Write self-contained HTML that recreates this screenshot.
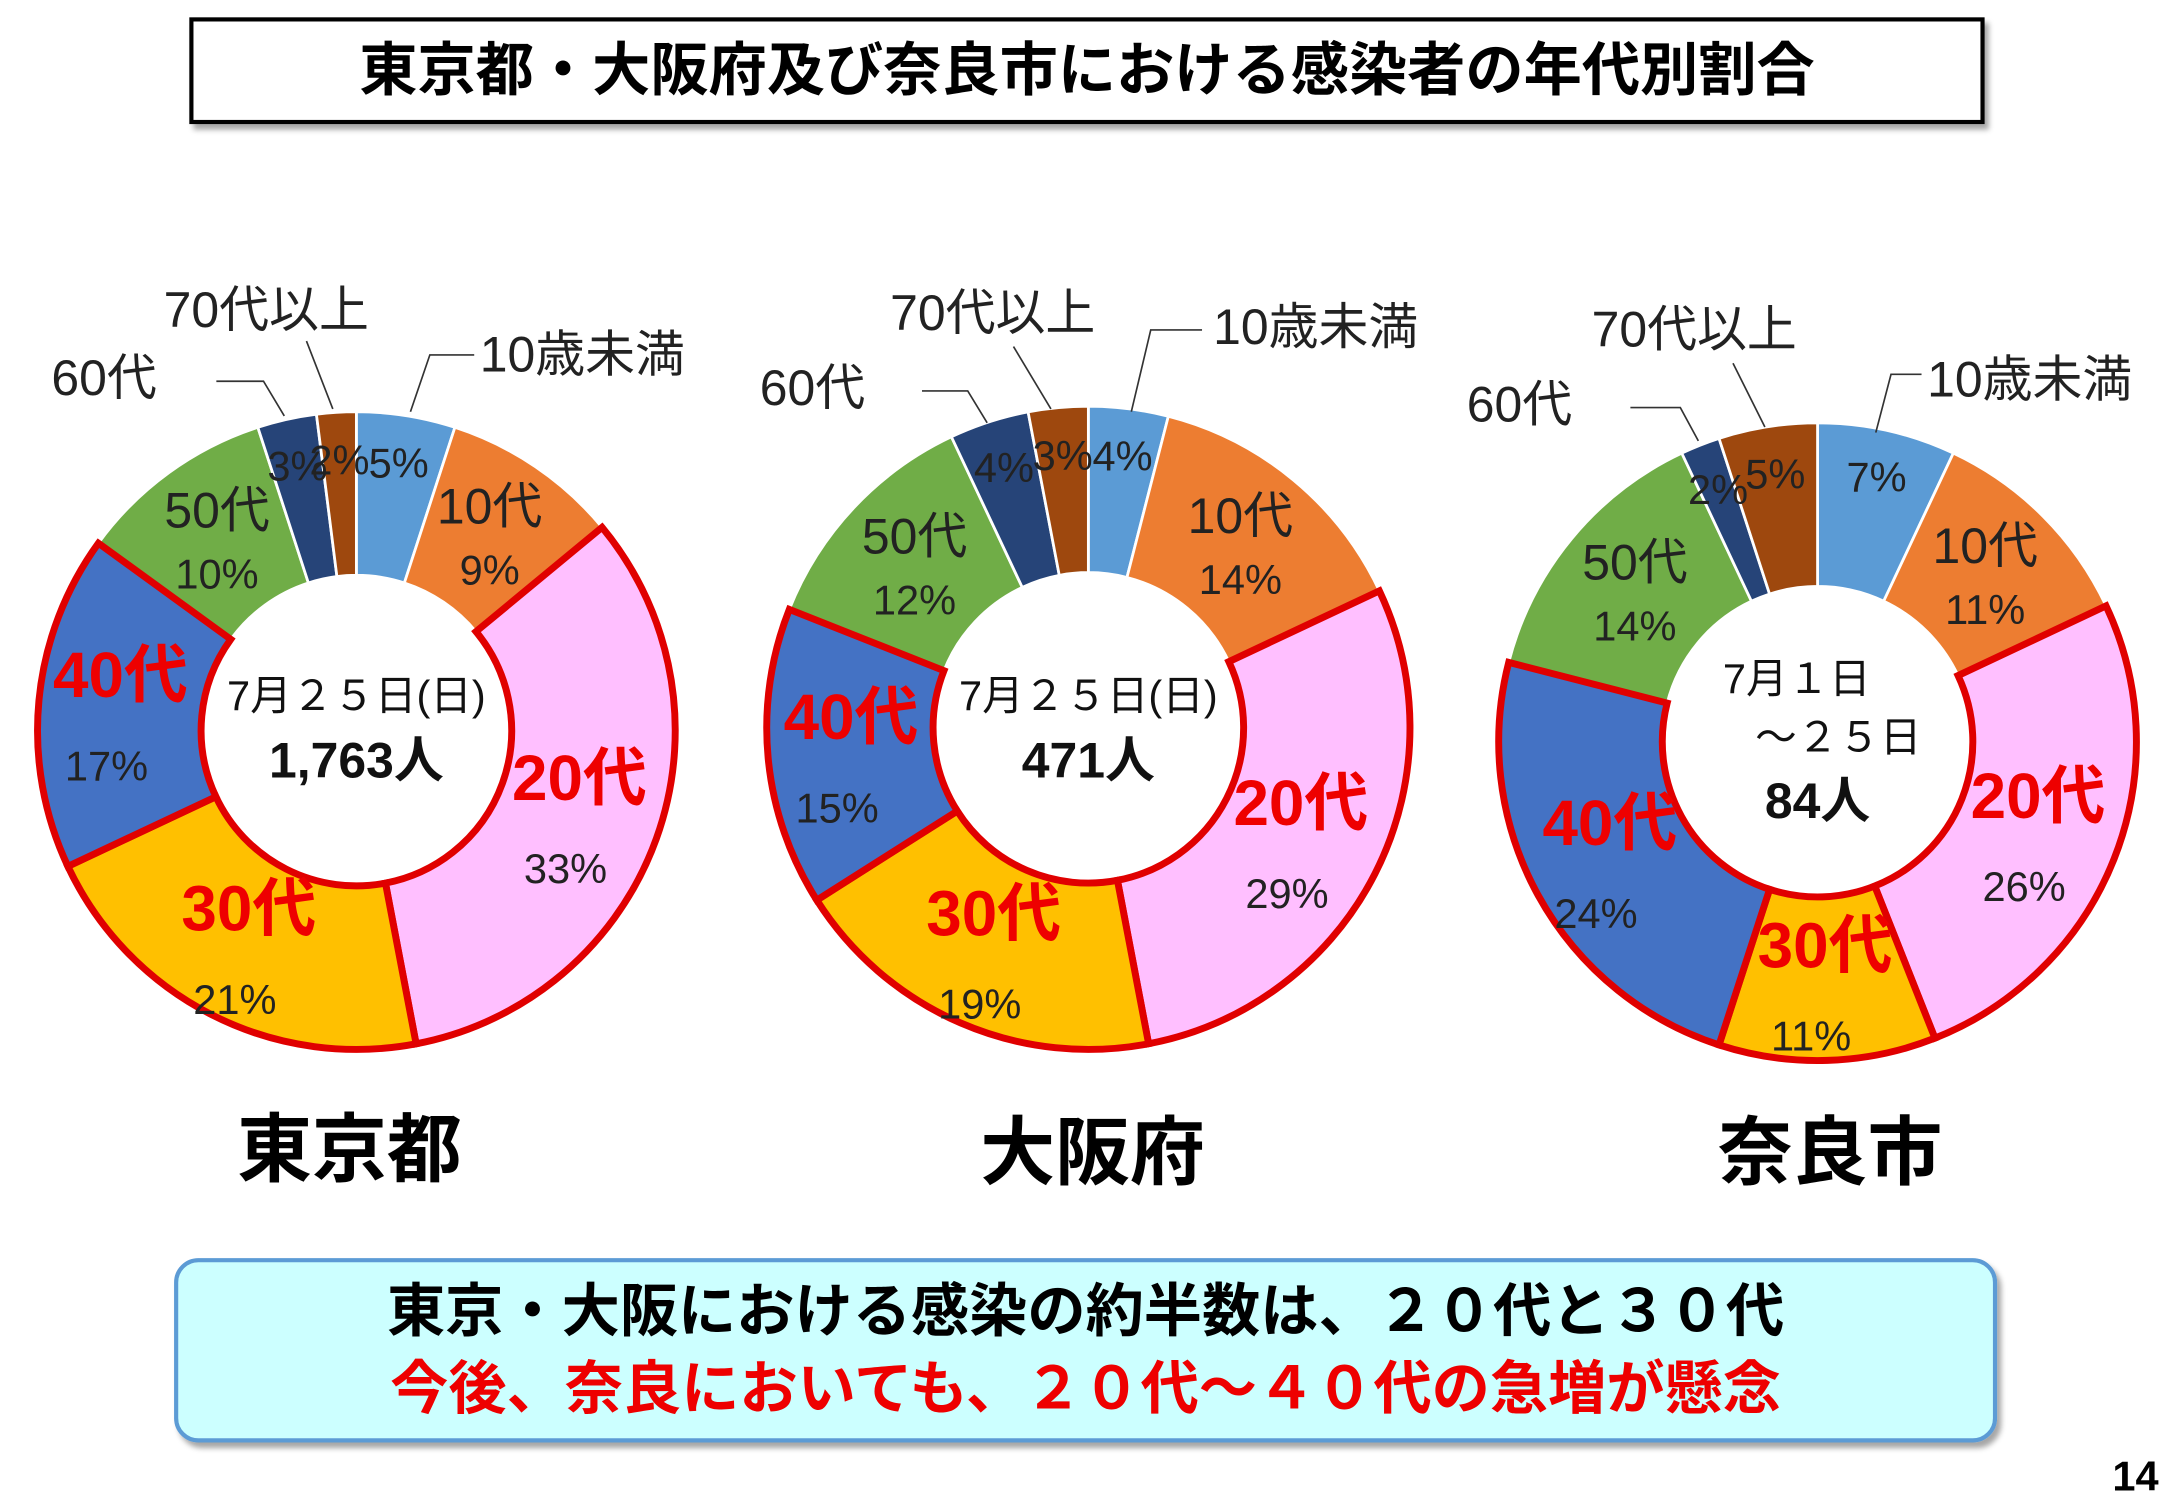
<!DOCTYPE html>
<html><head><meta charset="utf-8">
<style>
html,body{margin:0;padding:0;background:#fff;}
svg{display:block;}
text{font-family:"Liberation Sans","Noto Sans CJK JP",sans-serif;}
</style></head>
<body>
<svg id="chart" width="2167" height="1500" viewBox="0 0 1563 1082" xmlns="http://www.w3.org/2000/svg">
<defs>
<filter id="sh" x="-5%" y="-5%" width="110%" height="120%"><feDropShadow dx="3" dy="4" stdDeviation="2" flood-color="#000" flood-opacity="0.35"/></filter>
</defs>
<g>
<rect x="138" y="14" width="1292" height="74" fill="#fff" stroke="#000" stroke-width="3" filter="url(#sh)"/>
<text x="784" y="65" text-anchor="middle" font-size="42" font-weight="bold" fill="#000">東京都・大阪府及び奈良市における感染者の年代別割合</text>
</g>
<g id="donuts"></g>
<text x="252" y="848" text-anchor="middle" font-size="54" font-weight="bold">東京都</text>
<text x="788" y="850" text-anchor="middle" font-size="54" font-weight="bold">大阪府</text>
<text x="1320" y="850" text-anchor="middle" font-size="54" font-weight="bold">奈良市</text>
<g>
<rect x="127" y="909" width="1312" height="130" rx="16" fill="#ccffff" stroke="#5b9bd5" stroke-width="3" filter="url(#sh)"/>
<text x="783" y="960" text-anchor="middle" font-size="42" font-weight="bold" fill="#000">東京・大阪における感染の約半数は、２０代と３０代</text>
<text x="783" y="1016" text-anchor="middle" font-size="42" font-weight="bold" fill="#ee0000">今後、奈良においても、２０代～４０代の急増が懸念</text>
</g>
<text x="1557" y="1075" text-anchor="end" font-size="30" font-weight="bold">14</text>
</svg>
<script>
const categories = ["10歳未満","10代","20代","30代","40代","50代","60代","70代以上"];
const tokyoValues = [5,9,33,21,17,10,3,2];
const osakaValues = [4,14,29,19,15,12,4,3];
const naraValues = [7,11,26,11,24,14,2,5];
const colors = ["#5b9bd5","#ed7d31","#ffbfff","#ffc000","#4472c4","#70ad47","#264478","#9e480e"];
const highlight = [false,false,true,true,true,false,false,false];
const NS="http://www.w3.org/2000/svg";
const root=document.getElementById('donuts');
function el(tag,attrs,parent){const e=document.createElementNS(NS,tag);for(const k in attrs)e.setAttribute(k,attrs[k]);parent.appendChild(e);return e;}
function pt(cx,cy,r,frac){const a=frac*2*Math.PI;return [cx+r*Math.sin(a),cy-r*Math.cos(a)];}
function donut(key,values,cx,cy,R,r,centerLines,outside){
  const g=el('g',{},root);
  
  
  const total=values.reduce((a,b)=>a+b,0);
  let acc=0;const slices=[];
  values.forEach((v,i)=>{
    const f0=acc/total,f1=(acc+v)/total;acc+=v;
    const [x0,y0]=pt(cx,cy,R,f0),[x1,y1]=pt(cx,cy,R,f1),[x2,y2]=pt(cx,cy,r,f1),[x3,y3]=pt(cx,cy,r,f0);
    const large=(f1-f0)>0.5?1:0;
    const d=`M${x0},${y0}A${R},${R} 0 ${large} 1 ${x1},${y1}L${x2},${y2}A${r},${r} 0 ${large} 0 ${x3},${y3}Z`;
    slices.push({d,i,f0,f1,v});
  });
  slices.filter(s=>!highlight[s.i]).concat(slices.filter(s=>highlight[s.i])).forEach(s=>{
    const p=el('path',{d:s.d,fill:colors[s.i],stroke:highlight[s.i]?'#e00000':'#fff','stroke-width':highlight[s.i]?5:2,'stroke-linejoin':'miter'},g);
    
    
  });
  slices.forEach(s=>{
    const mid=(s.f0+s.f1)/2;
    const small=s.v<=7 && (s.i===0||s.i>=6);
    const rr=small?(R-35):(R+r)/2;
    const [x,y]=pt(cx,cy,rr,mid);
    if(small){
      const t=el('text',{x:x,y:y+10,'text-anchor':'middle','font-size':30,fill:'#222'},g);
      t.textContent=s.v+'%';
      
      
    } else {
      const hl=highlight[s.i];
      const n=el('text',{x:x,y:y-8,'text-anchor':'middle','font-size':hl?46:36,'font-weight':hl?'bold':'normal',fill:hl?'#ee0000':'#222'},g);
      n.textContent=categories[s.i];
      
      
      const t=el('text',{x:x-(hl?10:0),y:y+(hl?52:36),'text-anchor':'middle','font-size':30,fill:'#222'},g);
      t.textContent=s.v+'%';
      
      
    }
  });
  centerLines.forEach((c,k)=>{
    const t=el('text',{x:cx+(c.dx||0),y:c.y,'text-anchor':'middle','font-size':c.b?36:30,'font-weight':c.b?'bold':'normal',fill:'#111'},g);
    t.textContent=c.t;
    
    
  });
  outside.forEach((o,k)=>{
    el('polyline',{points:o.line,fill:'none',stroke:'#333','stroke-width':1.2},g);
    const t=el('text',{x:o.x,y:o.y,'font-size':36,fill:'#222'},g);
    t.textContent=o.t;
    
    
  });
}
donut('tokyo',tokyoValues,257,527,230,112,
 [{t:'7月２５日(日)',y:512},{t:'1,763人',y:561,b:true}],
 [{t:'10歳未満',x:346,y:268,line:'342,256 310,256 296,297'},
  {t:'70代以上',x:118,y:236,line:'221,246 240,295'},
  {t:'60代',x:37,y:285,line:'156,275 190,275 205,300'}]);
donut('osaka',osakaValues,785,525,232,112,
 [{t:'7月２５日(日)',y:512},{t:'471人',y:561,b:true}],
 [{t:'10歳未満',x:875,y:248,line:'867,238 830,238 816,297'},
  {t:'70代以上',x:642,y:238,line:'731,250 758,295'},
  {t:'60代',x:548,y:292,line:'665,282 698,282 712,305'}]);
donut('nara',naraValues,1311,535,230,112,
 [{t:'7月１日',y:500,dx:-15},{t:'～２５日',y:542,dx:15},{t:'84人',y:590,b:true}],
 [{t:'10歳未満',x:1390,y:286,line:'1386,270 1364,270 1353,312'},
  {t:'70代以上',x:1148,y:250,line:'1250,262 1273,308'},
  {t:'60代',x:1058,y:304,line:'1176,294 1212,294 1225,318'}]);
</script>
</body></html>
